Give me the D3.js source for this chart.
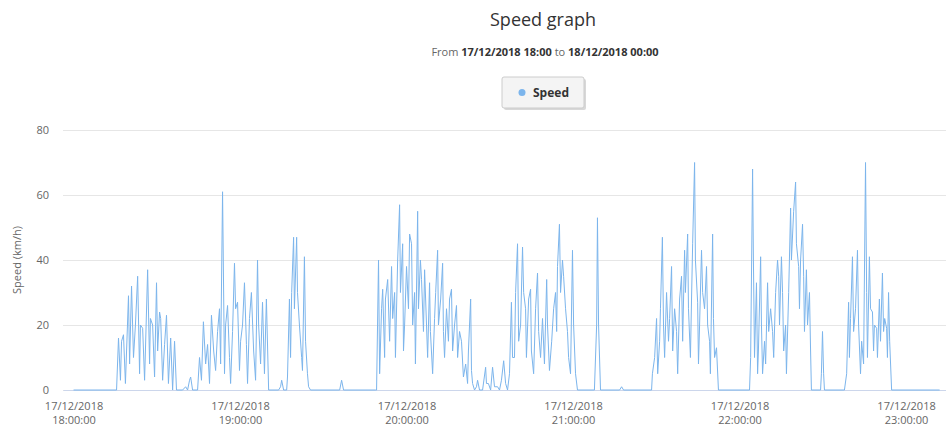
<!DOCTYPE html>
<html lang="en">

<head>
    <meta charset="UTF-8">
    <script src="https://d3js.org/d3.v7.min.js"></script>
    <title>Speed graph</title>
    <style>
        body { margin: 0; background: #fff; }
        text { font-family: "Open Sans", "DejaVu Sans", sans-serif; }
    </style>
</head>

<body>
    <svg width="946" height="426" id="mainsvg"></svg>
    <script>
        // minutes after 17/12/2018 18:00 , speed in km/h
        const trip1 = [[0, 0], [15.5, 0], [16.2, 16], [16.9, 3], [17.3, 15], [18.0, 17], [18.7, 2], [19.8, 29], [20.2, 8],
        [20.9, 32], [21.6, 10], [22.3, 20], [23.1, 35], [23.8, 5], [24.1, 20], [24.9, 19], [25.6, 3], [25.9, 12],
        [26.7, 37], [27.4, 8], [27.7, 22], [28.5, 20], [29.2, 4], [29.9, 33], [30.3, 12], [31.0, 24], [31.4, 22],
        [32.1, 3], [32.8, 14], [33.5, 23], [34.2, 2], [35.0, 16], [35.7, 0], [36.4, 15], [37.1, 0], [39.3, 0],
        [40.4, 1], [41.1, 0], [41.8, 3], [42.2, 4], [42.9, 0], [44.7, 0]];

        const trip2 = [[45.4, 10], [46.1, 3], [46.8, 21], [47.6, 8], [48.3, 14], [49.0, 2], [49.7, 23], [50.5, 12],
        [51.2, 6], [51.9, 18], [52.6, 25], [53.0, 8], [53.7, 61], [54.4, 5], [54.8, 20], [55.5, 26], [56.2, 10],
        [56.6, 2], [57.3, 18], [58.0, 39], [58.4, 25], [59.1, 27], [59.8, 6], [60.2, 15], [60.9, 20], [61.6, 33],
        [62.3, 14], [62.7, 2], [63.4, 22], [64.1, 30], [64.9, 12], [65.6, 3], [66.3, 40], [66.7, 20], [67.4, 8],
        [68.1, 27], [68.8, 5], [69.5, 28], [70.3, 0], [73.9, 0], [74.6, 1], [75.0, 3], [75.7, 0], [76.8, 0],
        [77.1, 4], [77.8, 28], [78.2, 10], [78.6, 30], [79.3, 47], [79.6, 25], [80.4, 47], [80.7, 30], [81.4, 20],
        [82.2, 10], [82.5, 6], [83.2, 41], [83.6, 15], [84.3, 5], [84.7, 1], [85.4, 0], [95.9, 0], [96.6, 3],
        [97.3, 0], [108.8, 0]];

        const trip3 = [[109.2, 0], [109.9, 40], [110.3, 5], [111.0, 25], [111.4, 31], [112.1, 10], [112.4, 28],
        [113.2, 34], [113.9, 15], [114.6, 38], [115.0, 22], [115.7, 30], [116.0, 10], [116.8, 40], [117.5, 57],
        [117.8, 30], [118.6, 45], [118.9, 12], [119.3, 20], [120.0, 38], [120.7, 25], [121.1, 48], [121.8, 45],
        [122.2, 20], [122.9, 30], [123.2, 8], [124.0, 55], [124.3, 25], [125.0, 40], [125.4, 34], [126.1, 18],
        [126.5, 37], [127.2, 20], [127.6, 10], [128.3, 33], [128.6, 18], [129.4, 5], [130.1, 22], [130.5, 30],
        [131.2, 43], [131.5, 20], [132.3, 28], [133.0, 39], [133.3, 18], [133.7, 10], [134.4, 25], [135.1, 15],
        [135.5, 28], [136.2, 31], [136.6, 12], [137.3, 20], [138.0, 26], [138.4, 10], [139.1, 18], [139.8, 15],
        [140.5, 4], [141.3, 8], [142.0, 2], [142.3, 12], [143.1, 28], [143.4, 6], [143.8, 2], [144.5, 0],
        [145.2, 1], [145.6, 3], [146.3, 0], [147.4, 0], [148.5, 7], [148.8, 2], [149.5, 2], [150.3, 0],
        [151.0, 7], [151.7, 1], [152.8, 1], [153.5, 0], [154.2, 3], [155.0, 9], [155.7, 2], [156.4, 0]];

        const trip4 = [[157.1, 5], [157.8, 27], [158.2, 10], [158.9, 10], [159.3, 30], [160.0, 45], [160.4, 15],
        [161.1, 20], [161.8, 44], [162.2, 30], [162.9, 25], [163.2, 10], [164.0, 28], [164.7, 31], [165.0, 12],
        [165.8, 5], [166.5, 25], [167.2, 36], [167.6, 18], [168.3, 10], [169.0, 22], [169.7, 8], [170.5, 34],
        [170.8, 20], [171.5, 6], [172.3, 15], [173.0, 25], [173.7, 30], [174.1, 18], [174.4, 38], [175.1, 51],
        [175.5, 30], [176.2, 40], [176.6, 35], [177.3, 25], [178.0, 18], [178.4, 10], [179.1, 5], [179.8, 43],
        [180.2, 20], [180.9, 5], [181.6, 0], [187.7, 0], [188.5, 20], [188.8, 53], [189.2, 20], [189.9, 0],
        [196.8, 0], [197.5, 1], [198.2, 0], [208.3, 0]];

        const trip5 = [[208.6, 5], [209.4, 10], [210.1, 22], [210.5, 5], [211.2, 15], [211.5, 25], [212.2, 47],
        [212.6, 20], [213.0, 10], [213.7, 30], [214.4, 15], [214.8, 22], [215.5, 38], [215.9, 12], [216.6, 25],
        [217.3, 18], [217.7, 5], [218.4, 28], [219.1, 35], [219.5, 15], [220.2, 43], [220.5, 30], [221.3, 48],
        [221.6, 25], [222.3, 10], [222.7, 28], [223.1, 45], [223.8, 70], [224.1, 40], [224.9, 27], [225.2, 8],
        [225.6, 20], [226.3, 43], [226.7, 30], [227.4, 25], [228.1, 38], [228.5, 20], [229.2, 15], [229.5, 5],
        [230.3, 48], [230.6, 22], [231.0, 10], [231.7, 13], [232.4, 0], [243.6, 0]];

        const trip6 = [[244.0, 10], [244.7, 68], [245.0, 40], [245.4, 10], [246.1, 33], [246.5, 5], [246.8, 12],
        [247.6, 41], [247.9, 20], [248.3, 5], [249.0, 15], [249.4, 8], [250.1, 33], [250.5, 18], [251.2, 25],
        [251.9, 18], [252.3, 10], [253.0, 30], [253.7, 40], [254.1, 35], [254.4, 20], [255.1, 41], [255.5, 30],
        [255.9, 12], [256.6, 20], [256.9, 5], [257.7, 30], [258.4, 56], [258.7, 40], [259.5, 55], [260.2, 64],
        [260.5, 45], [261.3, 38], [261.6, 25], [262.0, 40], [262.7, 51], [263.1, 35], [263.4, 18], [264.1, 37],
        [264.5, 20], [265.2, 30], [265.6, 12], [265.9, 0], [269.2, 0], [269.5, 5], [269.9, 18], [270.3, 5],
        [270.6, 0], [277.8, 0]];

        const trip7 = [[278.6, 5], [279.3, 27], [279.6, 10], [280.0, 22], [280.7, 41], [281.1, 18], [281.8, 25],
        [282.5, 43], [282.9, 20], [283.6, 5], [284.0, 15], [284.7, 8], [285.4, 70], [285.8, 30], [286.1, 10],
        [286.8, 41], [287.2, 25], [287.9, 24], [288.3, 12], [288.6, 20], [289.4, 19], [289.7, 10], [290.4, 28],
        [290.8, 15], [291.5, 36], [291.9, 18], [292.3, 22], [293.0, 19], [293.3, 10], [293.7, 30], [294.1, 15],
        [294.8, 0], [312.1, 0]];

        const yTicks = [0, 20, 40, 60, 80];
        const xTickHours = [18, 19, 20, 21, 22, 23];

        const startTime = new Date(2018, 11, 17, 18, 0, 0);
        const toDate = m => new Date(+startTime + m * 60000);
        const data = [].concat(trip1, trip2, trip3, trip4, trip5, trip6, trip7)
            .map(d => ({ time: toDate(d[0]), speed: d[1] }));

        const svg = d3.select('#mainsvg');
        const plotLeft = 63, plotRight = 946, plotTop = 130, plotBottom = 390;

        const xScale = d3.scaleTime()
            .domain([toDate(-3.8), toDate(314.4)])
            .range([plotLeft, plotRight]);

        const yScale = d3.scaleLinear()
            .domain([0, 80])
            .range([plotBottom, plotTop]);

        // grid + y labels
        const yAxis = d3.axisLeft(yScale)
            .tickValues(yTicks)
            .tickSize(-(plotRight - plotLeft))
            .tickPadding(14);
        const yG = svg.append('g')
            .attr('transform', `translate(${plotLeft}, 0)`)
            .call(yAxis);
        yG.select('.domain').remove();
        yG.selectAll('.tick line').attr('stroke', '#e6e6e6');
        yG.selectAll('.tick text').attr('fill', '#666').attr('font-size', '11px');

        // x axis (two-line labels drawn per tick)
        const xAxis = d3.axisBottom(xScale)
            .tickValues(xTickHours.map(h => new Date(2018, 11, 17, h, 0, 0)))
            .tickSize(0)
            .tickFormat('');
        const xG = svg.append('g')
            .attr('transform', `translate(0, ${plotBottom})`)
            .call(xAxis);
        xG.select('.domain').attr('stroke', '#ccd6eb');
        xG.selectAll('.tick text').remove();
        const fmtDay = d3.timeFormat('%d/%m/%Y');
        const fmtTime = d3.timeFormat('%H:%M:%S');
        xG.selectAll('.tick').each(function (d) {
            const tk = d3.select(this);
            tk.append('text').text(fmtDay(d))
                .attr('y', 20).attr('text-anchor', 'middle')
                .attr('fill', '#666').attr('font-size', '11px');
            tk.append('text').text(fmtTime(d))
                .attr('y', 34).attr('text-anchor', 'middle')
                .attr('fill', '#666').attr('font-size', '11px');
        });

        // the line
        const line = d3.line()
            .x(d => xScale(d.time))
            .y(d => yScale(d.speed));
        svg.append('path')
            .datum(data)
            .attr('d', line)
            .attr('fill', 'none')
            .attr('stroke', '#7cb5ec')
            .attr('stroke-width', 1)
            .attr('stroke-linejoin', 'round');

        // axis title
        svg.append('text').text('Speed (km/h)')
            .attr('transform', `translate(21, ${(plotTop + plotBottom) / 2}) rotate(-90)`)
            .attr('text-anchor', 'middle')
            .attr('fill', '#666')
            .attr('font-size', '11px');

        // titles
        svg.append('text').text('Speed graph')
            .attr('x', 543).attr('y', 26)
            .attr('text-anchor', 'middle')
            .attr('fill', '#333')
            .attr('font-size', '18px');

        const sub = svg.append('text')
            .attr('x', 545).attr('y', 56)
            .attr('text-anchor', 'middle')
            .attr('fill', '#666')
            .attr('font-size', '11px');
        sub.append('tspan').text('From ');
        sub.append('tspan').text('17/12/2018 18:00').attr('font-weight', 'bold').attr('fill', '#333');
        sub.append('tspan').text(' to ');
        sub.append('tspan').text('18/12/2018 00:00').attr('font-weight', 'bold').attr('fill', '#333');

        // legend
        const lg = svg.append('g').attr('transform', 'translate(502, 77)');
        lg.append('rect')
            .attr('x', 2).attr('y', 2).attr('width', 82).attr('height', 31)
            .attr('fill', '#d8d8d8').attr('rx', 2);
        lg.append('rect')
            .attr('width', 82).attr('height', 31)
            .attr('fill', '#f4f4f4').attr('stroke', '#cccccc').attr('rx', 2);
        lg.append('circle').attr('cx', 20).attr('cy', 15.5).attr('r', 3.5).attr('fill', '#7cb5ec');
        lg.append('text').text('Speed')
            .attr('x', 31).attr('y', 20)
            .attr('font-size', '12px').attr('font-weight', 'bold').attr('fill', '#333');
    </script>
</body>

</html>
